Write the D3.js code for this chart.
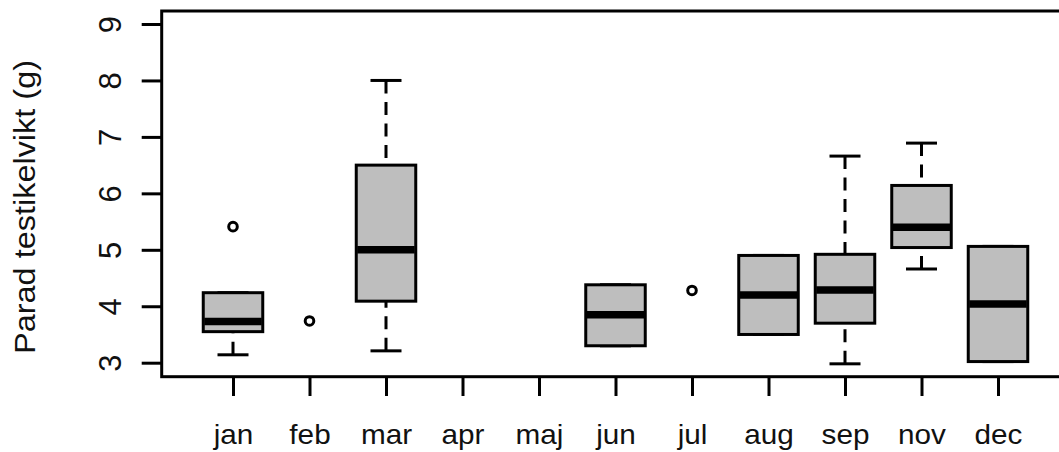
<!DOCTYPE html>
<html>
<head>
<meta charset="utf-8">
<script src="https://cdn.jsdelivr.net/npm/d3@7"></script>
<style>
  html, body { margin: 0; padding: 0; background: #fff; }
  svg { display: block; }
  text { font-family: "Liberation Sans", Arial, sans-serif; fill: #111; }
</style>
</head>
<body>
<svg id="chart" width="1059" height="452"></svg>
<script>
// ---- data ----
const months   = ["jan","feb","mar","apr","maj","jun","jul","aug","sep","nov","dec"];
const whiskLo  = [3.14, null, 3.21, null, null, 3.30, null, 3.50, 2.98, 4.66, 3.02];
const q1       = [3.55, null, 4.09, null, null, 3.30, null, 3.50, 3.70, 5.04, 3.02];
const medians  = [3.73, null, 5.00, null, null, 3.85, null, 4.20, 4.29, 5.40, 4.04];
const q3       = [4.24, null, 6.50, null, null, 4.38, null, 4.90, 4.92, 6.14, 5.06];
const whiskHi  = [4.24, null, 8.00, null, null, 4.38, null, 4.90, 6.66, 6.89, 5.06];
const outliers = [[5.41], [3.74], [], [], [], [], [4.28], [], [], [], []];
const yTicks   = [3, 4, 5, 6, 7, 8, 9];
const yTitle   = "Parad testikelvikt (g)";

// ---- layout ----
const W = 1059, H = 452;
const frame = { left: 161.7, top: 11, bottom: 376.7, right: 1090 };
const boxW = 59.5, capW = 31;
const lw = 3;

const svg = d3.select("#chart");

const y = d3.scaleLinear().domain([3, 9]).range([362.7, 24]);
const x = d3.scalePoint().domain(months).range([233, 998]);

const rows = months.map((m, i) => ({
  m, lo: whiskLo[i], q1: q1[i], med: medians[i], q3: q3[i], hi: whiskHi[i], out: outliers[i]
}));
const boxes = rows.filter(r => r.med !== null);

// whiskers (dashed, starting from whisker end)
const wh = svg.append("g");
boxes.forEach(r => {
  if (r.hi > r.q3) {
    wh.append("line").attr("x1", x(r.m)).attr("x2", x(r.m))
      .attr("y1", y(r.hi)).attr("y2", y(r.q3))
      .attr("stroke", "#000").attr("stroke-width", 3).attr("stroke-dasharray", "13,8.5");
  }
  if (r.lo < r.q1) {
    wh.append("line").attr("x1", x(r.m)).attr("x2", x(r.m))
      .attr("y1", y(r.lo)).attr("y2", y(r.q1))
      .attr("stroke", "#000").attr("stroke-width", 3).attr("stroke-dasharray", "13,8.5");
  }
  [r.lo, r.hi].forEach(v => {
    wh.append("line").attr("x1", x(r.m) - capW / 2).attr("x2", x(r.m) + capW / 2)
      .attr("y1", y(v)).attr("y2", y(v))
      .attr("stroke", "#000").attr("stroke-width", lw);
  });
});

// boxes
svg.append("g").selectAll("rect").data(boxes).join("rect")
  .attr("x", d => x(d.m) - boxW / 2)
  .attr("y", d => y(d.q3))
  .attr("width", boxW)
  .attr("height", d => y(d.q1) - y(d.q3))
  .attr("fill", "#bebebe")
  .attr("stroke", "#000")
  .attr("stroke-width", lw);

// medians
svg.append("g").selectAll("line").data(boxes).join("line")
  .attr("x1", d => x(d.m) - boxW / 2 + 1)
  .attr("x2", d => x(d.m) + boxW / 2 - 1)
  .attr("y1", d => y(d.med))
  .attr("y2", d => y(d.med))
  .attr("stroke", "#000")
  .attr("stroke-width", 7.5);

// outliers
const outPts = [];
rows.forEach(r => r.out.forEach(v => outPts.push({ m: r.m, v })));
svg.append("g").selectAll("circle").data(outPts).join("circle")
  .attr("cx", d => x(d.m))
  .attr("cy", d => y(d.v))
  .attr("r", 4.3)
  .attr("fill", "#fff")
  .attr("stroke", "#000")
  .attr("stroke-width", 3);

// frame
svg.append("rect")
  .attr("x", frame.left).attr("y", frame.top)
  .attr("width", frame.right - frame.left)
  .attr("height", frame.bottom - frame.top)
  .attr("fill", "none").attr("stroke", "#000").attr("stroke-width", lw);

// y axis
const gy = svg.append("g").attr("transform", `translate(${frame.left},0)`)
  .call(d3.axisLeft(y).tickValues(yTicks).tickSize(20).tickSizeOuter(0).tickFormat(d3.format("d")));
gy.select(".domain").remove();
gy.selectAll(".tick line").attr("stroke", "#000").attr("stroke-width", lw);
gy.selectAll(".tick text")
  .attr("x", null).attr("dy", null).attr("y", null)
  .attr("text-anchor", "middle")
  .attr("font-size", 31)
  .attr("transform", `translate(${121 - frame.left},0) rotate(-90)`);

// x axis
const gx = svg.append("g").attr("transform", `translate(0,${frame.bottom})`)
  .call(d3.axisBottom(x).tickSize(19.3).tickSizeOuter(0));
gx.select(".domain").remove();
gx.selectAll(".tick line").attr("stroke", "#000").attr("stroke-width", lw);
gx.selectAll(".tick text")
  .attr("y", null).attr("dy", null)
  .attr("text-anchor", "middle")
  .attr("font-size", 27)
  .attr("transform", `translate(0,${444 - frame.bottom}) scale(1.1,1)`);

// y title
svg.append("text")
  .attr("transform", "translate(35,207) rotate(-90) scale(1.12,1)")
  .attr("text-anchor", "middle")
  .attr("font-size", 29)
  .text(yTitle);

svg.selectAll("text").style("fill", "#111");
</script>
</body>
</html>
